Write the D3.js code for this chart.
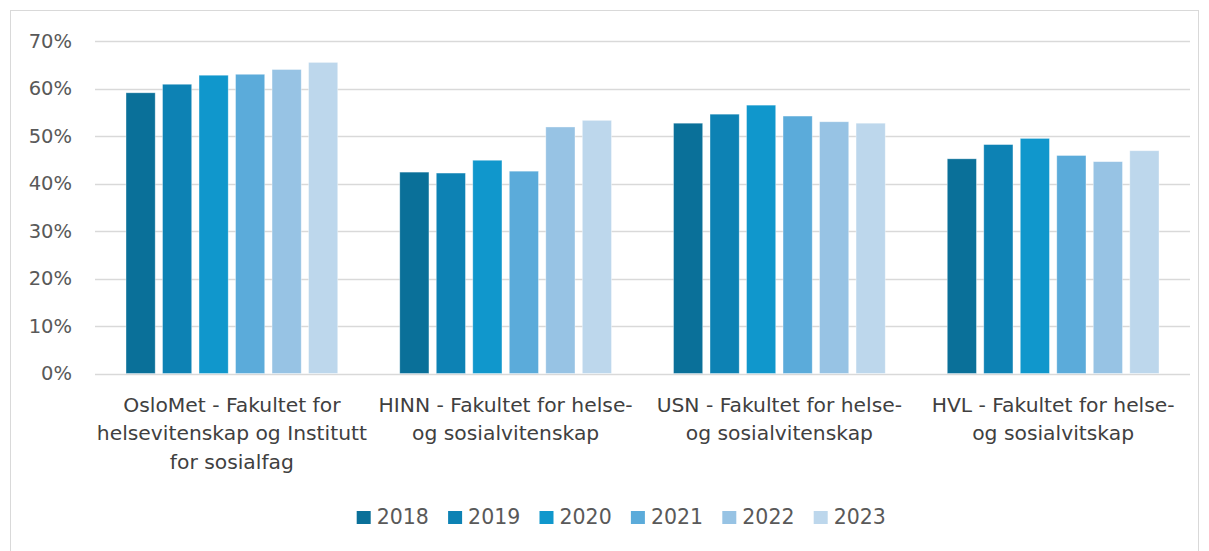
<!DOCTYPE html>
<html><head><meta charset="utf-8">
<script src="https://cdn.jsdelivr.net/npm/d3@7"></script>
<style>body{margin:0;background:#fff}svg{display:block}</style>
</head><body>
<svg id="c" width="1209" height="551"></svg>
<script>
const categories = [
  ["OsloMet - Fakultet for", "helsevitenskap og Institutt", "for sosialfag"],
  ["HINN - Fakultet for helse-", "og sosialvitenskap"],
  ["USN - Fakultet for helse-", "og sosialvitenskap"],
  ["HVL - Fakultet for helse-", "og sosialvitskap"]
];
const years = ["2018","2019","2020","2021","2022","2023"];
const s2018 = [59.1, 42.4, 52.7, 45.2];
const s2019 = [60.9, 42.2, 54.6, 48.2];
const s2020 = [62.8, 44.9, 56.5, 49.5];
const s2021 = [63.0, 42.6, 54.2, 45.9];
const s2022 = [64.0, 51.9, 53.0, 44.6];
const s2023 = [65.5, 53.3, 52.7, 46.9];
const series = [s2018, s2019, s2020, s2021, s2022, s2023];
const colors = ["#0A7099","#0D82B4","#1097CC","#5BABDA","#97C3E4","#BDD7EC"];
const yTicks = [0,10,20,30,40,50,60,70];

const svg = d3.select("#c");
const font = "'DejaVu Sans', sans-serif";
svg.append("rect").attr("x",10.5).attr("y",10.5).attr("width",1188).attr("height",545)
  .attr("fill","#fff").attr("stroke","#d9d9d9").attr("stroke-width",1);

const x0 = d3.scaleBand().domain(d3.range(categories.length)).range([95,1190]).paddingInner(0).paddingOuter(0);
const x1 = d3.scaleBand().domain(years).range([31, x0.bandwidth()-31]).paddingInner(0.2).paddingOuter(0);
const y = d3.scaleLinear().domain([0,70]).range([373.5,41]);

const yAxis = d3.axisLeft(y).tickValues(yTicks).tickFormat(d=>d+"%").tickSize(0).tickPadding(0);
const ga = svg.append("g").attr("transform","translate(72,0)").call(yAxis);
ga.select(".domain").remove();
ga.selectAll("text").attr("font-family",font).attr("font-size",19.5).attr("fill","#595959");

svg.append("g").selectAll("line").data(yTicks).join("line")
  .attr("x1",95).attr("x2",1190).attr("y1",d=>Math.round(y(d))+0.5).attr("y2",d=>Math.round(y(d))+0.5)
  .attr("stroke","#d9d9d9").attr("stroke-width",1.5);

const groups = svg.append("g").selectAll("g").data(categories).join("g")
  .attr("transform",(d,i)=>`translate(${x0(i)},0)`);
groups.selectAll("rect").data((d,i)=>series.map((s,k)=>({k, v:s[i]}))).join("rect")
  .attr("x",d=>x1(years[d.k])).attr("width",x1.bandwidth())
  .attr("y",d=>y(d.v)).attr("height",d=>y(0)-y(d.v))
  .attr("fill",d=>colors[d.k]).attr("stroke","#ffffff").attr("stroke-opacity",0.5).attr("stroke-width",0.75);

groups.each(function(lines,i){
  const t = d3.select(this).append("text").attr("text-anchor","middle")
    .attr("font-family",font).attr("font-size",20.3).attr("fill","#404040");
  lines.forEach((l,j)=>t.append("tspan").attr("x",x0.bandwidth()/2).attr("y",411.5+j*28.5).text(l));
});

const leg = svg.append("g").selectAll("g").data(years).join("g")
  .attr("transform",(d,i)=>`translate(${356.7+i*91.4},511)`);
leg.append("rect").attr("width",14).attr("height",13).attr("fill",(d,i)=>colors[i]);
leg.append("text").attr("x",20).attr("y",12.5).attr("font-family",font).attr("font-size",20.5)
  .attr("fill","#595959").text(d=>d);
</script>
</body></html>
